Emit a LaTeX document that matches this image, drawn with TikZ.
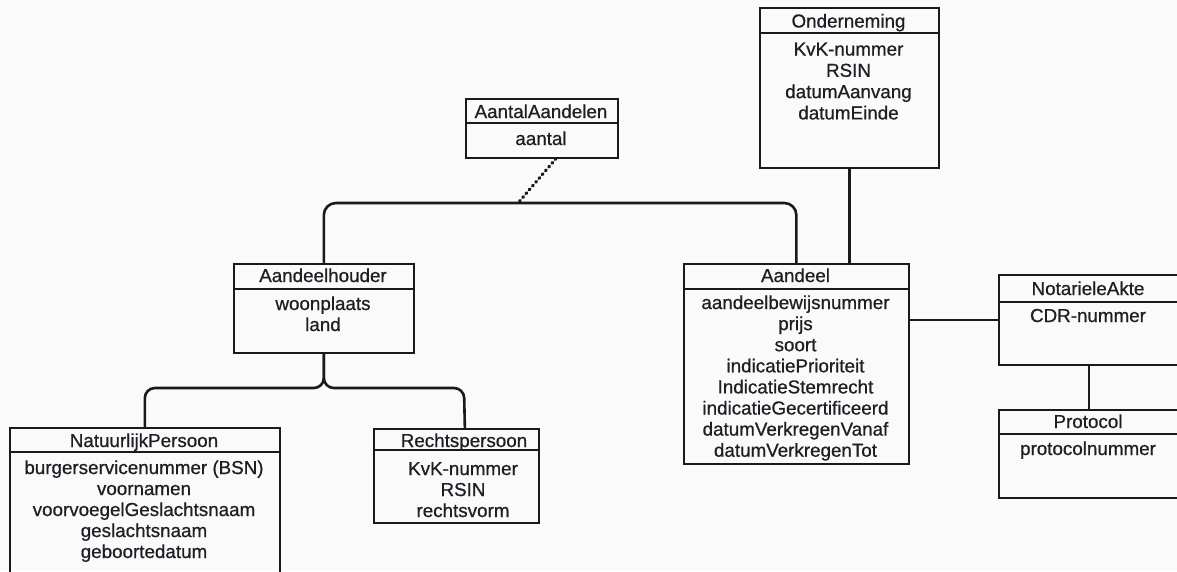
\documentclass[tikz,border=0pt]{standalone}
\usepackage{fontspec}
\setmainfont{Liberation Sans}
\newfontfamily\lblfont{Liberation Sans}[FakeBold=0.7]
\definecolor{linec}{HTML}{1A1A1A}
\definecolor{txt}{HTML}{1E1E24}
\definecolor{bg}{HTML}{FAFAFA}
\begin{document}
\begin{tikzpicture}[x=1pt,y=-1pt,
  box/.style={draw=linec, line width=1.7pt, rectangle, inner sep=0pt, anchor=north west},
  sep/.style={draw=linec, line width=1.7pt},
  conn/.style={draw=linec, line width=2.6pt},
  assocline/.style={draw=linec, line width=3.4pt, line cap=round, dash pattern=on 0.8pt off 4.2pt},
  lbl/.style={anchor=base, inner sep=0pt, text=txt, font=\lblfont\fontsize{18.8}{21}\selectfont},
  ]
\useasboundingbox (0,0) rectangle (1177,571);
\clip (0,0) rectangle (1177,571);
\fill[bg] (0,0) rectangle (1177,571);

% boxes
\node[box, minimum width=179, minimum height=160] (ond) at (759,7) {};
\node[box, minimum width=152, minimum height=59] (aa) at (465,98) {};
\node[box, minimum width=180, minimum height=89] (ah) at (233,263) {};
\node[box, minimum width=225, minimum height=200] (and) at (683,263) {};
\node[box, minimum width=270, minimum height=173] (np) at (9,427) {};
\node[box, minimum width=165, minimum height=94] (rp) at (373,428) {};
\node[box, minimum width=180, minimum height=90] (na) at (998,274) {};
\node[box, minimum width=180, minimum height=88] (pr) at (998,409) {};

% header separators
\draw[sep] (ond.west |- 0,33) -- (ond.east |- 0,33);
\draw[sep] (aa.west |- 0,123) -- (aa.east |- 0,123);
\draw[sep] (ah.west |- 0,289) -- (ah.east |- 0,289);
\draw[sep] (and.west |- 0,289) -- (and.east |- 0,289);
\draw[sep] (np.west |- 0,452) -- (np.east |- 0,452);
\draw[sep] (rp.west |- 0,450) -- (rp.east |- 0,450);
\draw[sep] (na.west |- 0,302) -- (na.east |- 0,302);
\draw[sep] (pr.west |- 0,434) -- (pr.east |- 0,434);

% titles
\node[lbl] (ond-t) at (848.5,27.5) {Onderneming};
\node[lbl] (aa-t) at (541,118) {AantalAandelen};
\node[lbl] (ah-t) at (323,282) {Aandeelhouder};
\node[lbl] (and-t) at (795.5,282) {Aandeel};
\node[lbl] (np-t) at (144,447) {NatuurlijkPersoon};
\node[lbl] (rp-t) at (464,447) {Rechtspersoon};
\node[lbl] (na-t) at (1088,295) {NotarieleAkte};
\node[lbl] (pr-t) at (1088,428) {Protocol};

% attributes
\foreach \t [count=\i] in {{KvK-nummer},{RSIN},{datumAanvang},{datumEinde}}
  \node[lbl] (ond-a\i) at (848.5,{55.5+21.3*(\i-1)}) {\t};
\node[lbl] (aa-a1) at (541,145) {aantal};
\foreach \t [count=\i] in {{woonplaats},{land}}
  \node[lbl] (ah-a\i) at (323,{310+21*(\i-1)}) {\t};
\foreach \t [count=\i] in {{aandeelbewijsnummer},{prijs},{soort},{indicatiePrioriteit},{IndicatieStemrecht},{indicatieGecertificeerd},{datumVerkregenVanaf},{datumVerkregenTot}}
  \node[lbl] (and-a\i) at (795.5,{309+21.1*(\i-1)}) {\t};
\foreach \t [count=\i] in {{burgerservicenummer (BSN)},{voornamen},{voorvoegelGeslachtsnaam},{geslachtsnaam},{geboortedatum}}
  \node[lbl] (np-a\i) at (144,{474+21*(\i-1)}) {\t};
\foreach \t [count=\i] in {{KvK-nummer},{RSIN},{rechtsvorm}}
  \node[lbl] (rp-a\i) at (463,{475+21*(\i-1)}) {\t};
\node[lbl] (na-a1) at (1088,322) {CDR-nummer};
\node[lbl] (pr-a1) at (1088,455) {protocolnummer};

% connectors
\coordinate (bar) at (0,203);
\coordinate (split) at (0,388);
\coordinate (assoc) at (518,203);
\draw[conn, rounded corners=12] (ah.north) |- (bar -| and.north) -- (and.north);
\draw[conn] (ond.south) -- (ond.south |- and.north);
\draw[assocline] ([xshift=14pt]aa.south) -- (assoc);
\draw[conn, rounded corners=10] (ah.south) |- (split -| np.north) -- (np.north);
\draw[conn, rounded corners=10] (ah.south) |- (split -| 464,0) -- ([xshift=8.5pt]rp.north);
\draw[conn] (and.east |- 0,320) -- (na.west |- 0,320);
\draw[conn] (na.south) -- (pr.north);
\end{tikzpicture}
\end{document}
